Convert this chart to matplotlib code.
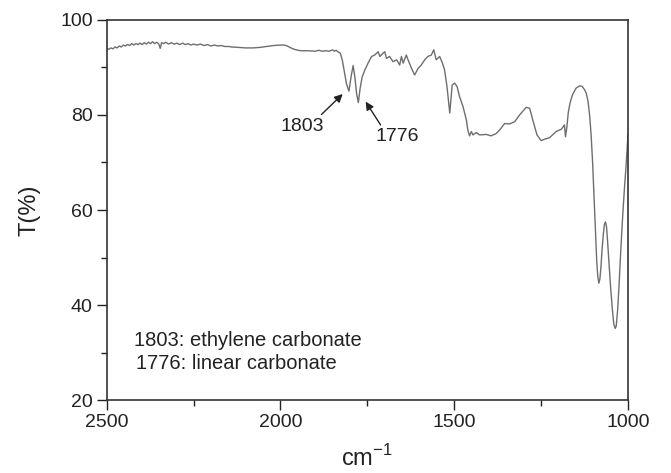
import matplotlib
matplotlib.use("Agg")
import matplotlib.pyplot as plt
from matplotlib.ticker import MultipleLocator

plt.rcParams['font.family'] = ['Liberation Sans', 'DejaVu Sans']

# IR spectrum (wavenumber in cm-1, transmittance in %)
wavenumber = [
    2500, 2494, 2488, 2482, 2476, 2470, 2464, 2458, 2452, 2446,
    2440, 2434, 2428, 2422, 2416, 2410, 2404, 2398, 2392, 2386,
    2380, 2374, 2368, 2362, 2356, 2350, 2346, 2342, 2336, 2330,
    2322, 2314, 2306, 2298, 2290, 2282, 2274, 2266, 2258, 2250,
    2240, 2230, 2220, 2210, 2200, 2190, 2180, 2170, 2160, 2150,
    2140, 2120, 2100, 2080, 2060, 2040, 2020, 2000, 1990, 1980,
    1970, 1960, 1950, 1940, 1920, 1900, 1890, 1880, 1870, 1860,
    1850, 1845, 1840, 1835, 1828, 1822, 1816, 1810, 1803, 1797,
    1791, 1786, 1781, 1776, 1771, 1765, 1757, 1748, 1738, 1729,
    1719, 1714, 1705, 1700, 1695, 1686, 1676, 1666, 1657, 1652,
    1647, 1638, 1633, 1623, 1614, 1604, 1595, 1585, 1576, 1566,
    1559, 1552, 1542, 1534, 1528, 1521, 1513, 1506, 1499, 1492,
    1485, 1475, 1465, 1461, 1456, 1451, 1446, 1437, 1427, 1408,
    1394, 1379, 1370, 1355, 1341, 1326, 1312, 1293, 1283, 1274,
    1262, 1250, 1240, 1226, 1207, 1192, 1183, 1180, 1176, 1172,
    1167, 1160, 1150, 1140, 1132, 1125, 1120, 1115, 1110, 1106,
    1102, 1098, 1094, 1090, 1087, 1084, 1081, 1078, 1075, 1071,
    1068, 1065, 1062, 1059, 1055, 1050, 1045, 1041, 1037, 1034,
    1030, 1026, 1022, 1018, 1014, 1010, 1006, 1003, 1000,
]
transmittance = [
    94.0, 93.8, 94.1, 93.9, 94.3, 94.1, 94.5, 94.3, 94.7, 94.5,
    94.8, 94.6, 95.0, 94.7, 95.0, 94.8, 95.1, 94.8, 95.2, 94.9,
    95.3, 95.0, 95.4, 95.0, 95.3, 94.9, 94.0, 95.2, 95.0, 95.3,
    94.9, 95.2, 94.9, 95.1, 94.8, 95.1, 94.8, 95.0, 94.7, 94.9,
    94.7, 94.9, 94.6, 94.8, 94.5, 94.7, 94.5, 94.6, 94.4, 94.4,
    94.3, 94.2, 94.1, 94.1, 94.2, 94.4, 94.6, 94.7, 94.7, 94.5,
    94.1, 93.8, 93.6, 93.5, 93.5, 93.4, 93.6, 93.4, 93.5, 93.4,
    93.7, 93.4, 93.6, 93.3, 93.0, 91.5, 89.0, 86.5, 85.0, 88.0,
    90.4, 88.0, 84.5, 82.6, 85.5, 88.0, 89.5, 90.9, 92.3, 92.6,
    93.3, 92.3, 93.0, 93.3, 91.9, 92.3, 91.2, 91.6, 90.5, 92.3,
    90.9, 92.6, 91.6, 89.8, 88.4, 89.8, 90.5, 91.6, 92.3, 92.6,
    93.7, 91.6, 92.3, 90.9, 89.5, 86.0, 80.4, 86.3, 86.7, 86.0,
    83.9, 81.8, 78.9, 76.8, 75.6, 76.5, 75.8, 76.3, 75.8, 75.9,
    75.6, 76.1, 76.8, 78.2, 78.1, 78.6, 80.0, 81.6, 81.4, 78.9,
    75.8, 74.6, 74.9, 75.2, 76.5, 77.0, 77.9, 75.4, 77.5, 80.5,
    82.5, 84.2, 85.6, 86.1, 86.0, 85.3, 84.5, 82.8, 79.5, 75.5,
    70.0, 63.0, 55.5, 49.0, 46.0, 44.6, 45.5, 48.0, 51.5, 55.0,
    57.0, 57.5, 56.5, 53.5, 49.0, 43.5, 39.0, 36.0, 35.1, 35.6,
    39.0, 44.0, 50.0, 55.5, 60.5, 65.0, 69.0, 72.5, 76.0,
]

fig = plt.figure(figsize=(6.71, 4.73), dpi=100)
ax = fig.add_axes([0.159, 0.154, 0.777, 0.804])

ax.plot(wavenumber, transmittance, color='#6e6e6e', lw=1.0)

ax.set_xlim(2500, 1000)
ax.set_ylim(20, 100)
ax.xaxis.set_major_locator(MultipleLocator(500))
ax.xaxis.set_minor_locator(MultipleLocator(250))
ax.yaxis.set_major_locator(MultipleLocator(20))
ax.yaxis.set_minor_locator(MultipleLocator(10))
ax.tick_params(which='both', direction='out', top=False, right=False,
               labelsize=14, colors='#222222', width=1.0)
ax.tick_params(which='major', length=7, pad=3)
ax.tick_params(which='minor', length=4)
for sp in ax.spines.values():
    sp.set_linewidth(1.2)
    sp.set_color('#333333')

ax.set_xlabel('cm$^{\\mathregular{-1}}$', fontsize=17, color='#222222', labelpad=10)
ax.set_ylabel('T(%)', fontsize=17, color='#222222', labelpad=14)

arrow = dict(arrowstyle='-|>', color='#222222', lw=1.0, mutation_scale=12,
             shrinkA=0, shrinkB=0)
ax.annotate('', xy=(1821, 84.4), xytext=(1882, 80.1), arrowprops=arrow)
ax.annotate('', xy=(1755, 82.8), xytext=(1712, 77.9), arrowprops=arrow)
ax.text(1938, 77.5, '1803', fontsize=14, ha='center', va='center', color='#222222')
ax.text(1663, 75.5, '1776', fontsize=14, ha='center', va='center', color='#222222')

ax.text(2421, 32.6, '1803: ethylene carbonate', fontsize=14.5, ha='left', va='center',
        color='#222222')
ax.text(2416, 27.8, '1776: linear carbonate', fontsize=14.5, ha='left', va='center',
        color='#222222')

fig.savefig('out.png', dpi=100)
